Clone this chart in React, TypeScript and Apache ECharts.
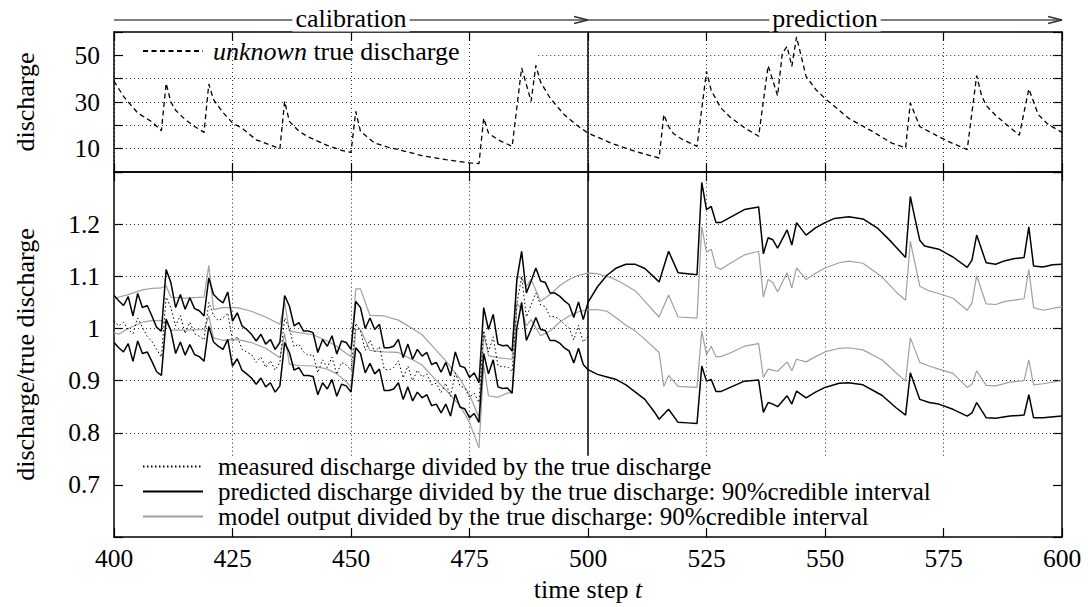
import React, { useEffect, useRef } from 'react';
import * as echarts from 'echarts';

const FONT = 'Liberation Serif';

// ---------- axis ticks / labels ----------
const xTickValues = [400, 425, 450, 475, 500, 525, 550, 575, 600];
const topYLabels = [10, 30, 50];
const topGridValues = [10, 20, 30, 40];
const bottomGridValues = [0.8, 0.9, 1.0, 1.1, 1.2];
const verticalGridValues = [425, 450, 475, 525, 550, 575];
const calibrationEnd = 500;

// ---------- top panel: unknown true discharge [t, value] ----------
const trueDischarge: [number, number][] = [
  [400, 39], [402, 32.4], [405, 25.3], [408, 21.5], [410, 17.7], [411, 38], [412, 30], [413, 26.5],
  [415, 22.5], [417, 19.5], [419, 17], [420, 37.7], [421, 31], [423, 25.5], [425, 21], [427, 18.8],
  [430, 13.8], [433, 11.5], [435, 10], [436, 30.3], [437, 21.7], [439, 17.5], [441, 15], [445, 11.4],
  [448, 9.3], [450, 8.4], [451, 26], [452, 17.4], [455, 12.4], [458, 10.5], [460, 9.6], [465, 7],
  [470, 5.3], [475, 3.9], [477, 3.6], [478, 23.1], [479, 16.7], [481, 13.8], [484, 11], [486, 44.6],
  [488, 30.3], [489, 45.7], [490, 38.5], [492, 31.7], [495, 24.5], [498, 19.5], [500, 16.7],
  [505, 12.3], [510, 8.8], [515, 6], [516, 24.6], [517, 19.5], [518, 16.5], [520, 13.8], [523, 11],
  [525, 43.1], [526, 35], [528, 27.5], [530, 23.5], [533, 19], [536, 15.3], [538, 45.6], [540, 32.7],
  [541, 51], [542, 53.8], [543, 45.3], [544, 57.9], [546, 41], [548, 35.5], [550, 31.5], [555, 23],
  [560, 17.4], [564, 12.5], [567, 10.3], [568, 29.6], [570, 19.5], [573, 16.2], [576, 13.1],
  [580, 9.6], [582, 41.3], [583, 33], [584, 28.5], [586, 24.3], [588, 20.8], [591, 15.8], [593, 35.6],
  [595, 24.6], [597, 20.5], [600, 17],
];

// ---------- bottom panel, calibration period t = 400..500 (one value per step) ----------
const predUpperCal = [
  1.063, 1.053, 1.044, 1.061, 1.024, 1.067, 1.040, 1.044, 1.024, 1.002,
  0.995, 1.113, 1.088, 1.040, 1.065, 1.037, 1.059, 1.038, 1.034, 1.024,
  1.097, 1.065, 1.056, 1.049, 1.070, 1.014, 1.030, 1.005, 0.998, 0.989,
  0.976, 0.989, 0.970, 0.979, 0.960, 0.973, 1.063, 1.043, 1.005, 1.011,
  0.995, 0.995, 0.992, 0.954, 0.979, 0.966, 0.986, 0.951, 0.976, 0.973,
  0.960, 1.052, 1.040, 1.000, 1.020, 0.998, 1.008, 0.963, 0.963, 0.966,
  0.979, 0.944, 0.970, 0.941, 0.960, 0.947, 0.954, 0.931, 0.935, 0.916,
  0.935, 0.909, 0.955, 0.928, 0.925, 0.906, 0.915, 0.896, 1.040, 0.998,
  1.027, 0.970, 0.967, 0.968, 0.957, 1.094, 1.148, 1.068, 1.091, 1.116,
  1.091, 1.088, 1.068, 1.068, 1.062, 1.053, 1.046, 1.021, 1.051, 1.017,
  1.050,
];
const predLowerCal = [
  0.973, 0.963, 0.955, 0.971, 0.937, 0.976, 0.952, 0.955, 0.937, 0.917,
  0.910, 1.018, 0.996, 0.952, 0.974, 0.949, 0.969, 0.950, 0.946, 0.937,
  1.004, 0.974, 0.966, 0.960, 0.979, 0.928, 0.942, 0.920, 0.913, 0.905,
  0.893, 0.905, 0.888, 0.896, 0.878, 0.890, 0.973, 0.954, 0.920, 0.925,
  0.910, 0.910, 0.908, 0.873, 0.896, 0.884, 0.902, 0.870, 0.893, 0.890,
  0.878, 0.963, 0.952, 0.915, 0.933, 0.913, 0.922, 0.881, 0.881, 0.884,
  0.896, 0.864, 0.888, 0.861, 0.878, 0.867, 0.873, 0.852, 0.855, 0.838,
  0.855, 0.832, 0.874, 0.849, 0.846, 0.829, 0.837, 0.820, 0.952, 0.913,
  0.940, 0.888, 0.885, 0.886, 0.876, 1.001, 1.050, 0.977, 0.998, 1.021,
  0.998, 0.996, 0.977, 0.977, 0.972, 0.963, 0.957, 0.934, 0.962, 0.931,
  0.921,
];
const measuredCal = [
  1.015, 1.005, 1.012, 0.998, 0.990, 1.020, 1.002, 0.985, 0.975, 0.960,
  0.945, 1.060, 1.040, 1.005, 1.025, 0.990, 1.012, 0.990, 0.985, 0.978,
  1.050, 1.025, 1.015, 1.020, 1.030, 0.975, 0.985, 0.960, 0.955, 0.950,
  0.935, 0.945, 0.925, 0.938, 0.920, 0.935, 1.020, 1.000, 0.965, 0.970,
  0.955, 0.948, 0.950, 0.915, 0.940, 0.925, 0.945, 0.912, 0.935, 0.930,
  0.920, 1.010, 0.996, 0.958, 0.978, 0.955, 0.965, 0.922, 0.920, 0.925,
  0.938, 0.905, 0.928, 0.900, 0.920, 0.907, 0.913, 0.892, 0.895, 0.877,
  0.895, 0.870, 0.915, 0.890, 0.886, 0.868, 0.876, 0.858, 0.996, 0.955,
  0.984, 0.929, 0.926, 0.927, 0.917, 1.048, 1.099, 1.022, 1.045, 1.068,
  1.045, 1.042, 1.022, 1.023, 1.017, 1.008, 1.001, 0.978, 1.006, 0.974,
  0.985,
];

// ---------- bottom panel, prediction period [t, value] ----------
const predUpperPred: [number, number][] = [
  [502, 1.08], [504, 1.102], [506, 1.116], [508, 1.123], [510, 1.123], [512, 1.115], [514, 1.098],
  [515, 1.089], [517, 1.148], [519, 1.107], [523, 1.103], [524, 1.28], [525, 1.228], [526, 1.234],
  [527, 1.203], [528, 1.203], [530, 1.213], [533, 1.228], [536, 1.233], [537, 1.143], [538, 1.174],
  [539, 1.17], [540, 1.154], [542, 1.189], [543, 1.16], [544, 1.203], [546, 1.179], [548, 1.193],
  [550, 1.203], [552, 1.211], [555, 1.214], [558, 1.21], [561, 1.193], [564, 1.166], [567, 1.136],
  [568, 1.253], [569, 1.21], [570, 1.169], [571, 1.158], [574, 1.152], [577, 1.137], [580, 1.117],
  [581, 1.131], [582, 1.179], [584, 1.126], [586, 1.123], [588, 1.13], [590, 1.134], [592, 1.136],
  [593, 1.195], [594, 1.12], [596, 1.118], [598, 1.122], [600, 1.123],
];
const predLowerPred: [number, number][] = [
  [502, 0.912], [504, 0.907], [506, 0.902], [508, 0.892], [510, 0.878], [512, 0.864], [514, 0.84],
  [515, 0.826], [517, 0.845], [519, 0.82], [521, 0.819], [523, 0.818], [524, 0.928], [525, 0.899],
  [526, 0.902], [527, 0.879], [528, 0.879], [530, 0.887], [533, 0.899], [536, 0.901], [537, 0.839],
  [538, 0.858], [539, 0.855], [540, 0.85], [542, 0.871], [543, 0.855], [544, 0.88], [546, 0.867],
  [548, 0.878], [550, 0.887], [553, 0.895], [555, 0.896], [558, 0.892], [562, 0.872], [565, 0.848],
  [567, 0.834], [568, 0.915], [570, 0.864], [572, 0.858], [574, 0.855], [577, 0.845], [580, 0.832],
  [581, 0.838], [582, 0.858], [584, 0.829], [586, 0.828], [589, 0.832], [592, 0.834], [593, 0.873],
  [594, 0.829], [596, 0.829], [600, 0.832],
];

// ---------- model output interval (smooth, whole period) [t, value] ----------
const modelUpper: [number, number][] = [
  [400, 1.058], [403, 1.065], [406, 1.074], [408, 1.077], [410, 1.078], [411, 1.082], [412, 1.06],
  [415, 1.058], [419, 1.06], [420, 1.121], [421, 1.036], [423, 1.04], [426, 1.04], [429, 1.033],
  [432, 1.022], [435, 1.008], [436, 1.05], [437, 0.995], [439, 0.992], [442, 0.988], [445, 0.976],
  [447, 0.966], [449, 0.952], [450, 0.946], [451, 1.076], [452, 1.076], [454, 1.025], [457, 1.024],
  [460, 1.016], [462, 1.005], [465, 0.988], [467, 0.968], [470, 0.938], [473, 0.903], [475, 0.873],
  [477, 0.829], [478, 0.99], [479, 0.948], [481, 0.944], [484, 0.941], [485, 1.1], [486, 1.097],
  [487, 1.081], [488, 1.094], [490, 1.052], [492, 1.065], [494, 1.082], [496, 1.094], [498, 1.102],
  [500, 1.106], [502, 1.105], [505, 1.097], [507, 1.088], [510, 1.072], [512, 1.052], [515, 1.022],
  [517, 1.064], [519, 1.022], [523, 1.02], [524, 1.195], [525, 1.146], [526, 1.152], [527, 1.118],
  [528, 1.113], [530, 1.125], [533, 1.141], [536, 1.148], [537, 1.06], [538, 1.094], [539, 1.088],
  [540, 1.07], [542, 1.107], [543, 1.078], [544, 1.116], [546, 1.094], [548, 1.106], [550, 1.116],
  [553, 1.126], [555, 1.129], [558, 1.125], [562, 1.099], [565, 1.07], [567, 1.054], [568, 1.167],
  [570, 1.081], [572, 1.072], [574, 1.067], [577, 1.058], [580, 1.035], [581, 1.049], [582, 1.101],
  [584, 1.047], [586, 1.046], [588, 1.052], [592, 1.057], [593, 1.113], [594, 1.04], [596, 1.035],
  [600, 1.042],
];
const modelLower: [number, number][] = [
  [400, 0.992], [401, 0.989], [403, 1.0], [406, 1.012], [408, 1.015], [410, 1.015], [411, 1.012],
  [412, 0.997], [415, 0.997], [419, 0.998], [420, 1.024], [421, 0.982], [423, 0.977], [426, 0.979],
  [429, 0.973], [432, 0.962], [435, 0.944], [436, 0.99], [437, 0.931], [439, 0.929], [442, 0.928],
  [445, 0.922], [447, 0.913], [449, 0.898], [450, 0.887], [451, 0.998], [452, 0.998], [454, 0.958],
  [457, 0.955], [460, 0.954], [463, 0.94], [465, 0.93], [467, 0.91], [470, 0.882], [473, 0.852],
  [475, 0.82], [477, 0.771], [478, 0.93], [479, 0.871], [481, 0.868], [483, 0.876], [484, 0.877],
  [485, 1.049], [486, 1.036], [487, 1.005], [488, 1.017], [490, 0.986], [492, 0.995], [494, 1.012],
  [496, 1.024], [498, 1.032], [500, 1.036], [502, 1.036], [504, 1.033], [506, 1.02], [508, 1.006],
  [510, 0.995], [512, 0.979], [515, 0.954], [516, 0.889], [517, 0.91], [519, 0.889], [523, 0.887],
  [524, 0.995], [525, 0.95], [526, 0.966], [527, 0.946], [528, 0.946], [530, 0.953], [533, 0.966],
  [536, 0.971], [537, 0.906], [538, 0.922], [539, 0.92], [540, 0.918], [542, 0.936], [543, 0.919],
  [544, 0.941], [546, 0.936], [548, 0.946], [550, 0.955], [553, 0.962], [555, 0.963], [558, 0.959],
  [562, 0.94], [565, 0.915], [567, 0.899], [568, 0.982], [570, 0.935], [572, 0.928], [574, 0.922],
  [577, 0.914], [580, 0.887], [581, 0.893], [582, 0.919], [584, 0.891], [586, 0.89], [589, 0.897],
  [592, 0.9], [593, 0.94], [594, 0.892], [596, 0.894], [600, 0.9],
];

const NAME_TRUE = 'unknown true discharge';
const NAME_MEAS = 'measured discharge divided by the true discharge';
const NAME_PRED = 'predicted discharge divided by the true discharge: 90%credible interval';
const NAME_MODEL = 'model output divided by the true discharge: 90%credible interval';

const calPairs = (vals: number[]) => vals.map((v, i) => [400 + i, v] as [number, number]);

export default function App() {
  const ref = useRef<HTMLDivElement>(null);
  useEffect(() => {
    if (!ref.current) return;
    const chart = echarts.init(ref.current, null, { renderer: 'svg' });

    const gridLineStyle = { type: [1, 3] as any, color: '#333', width: 1 };
    const tickStyle = { show: true, inside: true, length: 9, lineStyle: { color: '#000', width: 1.2 } };
    const axisLineStyle = { show: true, onZero: false, lineStyle: { color: '#000', width: 1.5 } };
    const labelFont = { fontFamily: FONT, fontSize: 25.5, color: '#000' };
    const legendCut = 0.756; // bottom-panel grid lines stop at the legend box

    const option: any = {
      animation: false,
      backgroundColor: '#fff',
      textStyle: { fontFamily: FONT },
      grid: [
        { left: 114, top: 32, width: 948, height: 140, containLabel: false },
        { left: 114, top: 172, width: 948, height: 366, containLabel: false },
      ],
      xAxis: [
        {
          type: 'value', gridIndex: 0, min: 400, max: 600, interval: 25, position: 'bottom',
          axisLine: axisLineStyle, axisTick: tickStyle, axisLabel: { show: false },
          splitLine: { show: true, lineStyle: gridLineStyle },
        },
        {
          type: 'value', gridIndex: 0, min: 400, max: 600, interval: 25, position: 'top',
          axisLine: axisLineStyle, axisTick: tickStyle, axisLabel: { show: false }, splitLine: { show: false },
        },
        {
          type: 'value', gridIndex: 1, min: 400, max: 600, interval: 25, position: 'bottom',
          axisLine: axisLineStyle, axisTick: tickStyle,
          axisLabel: { ...labelFont, margin: 8, formatter: (v: number) => (xTickValues.includes(v) ? String(v) : '') },
          splitLine: { show: false },
          name: 'time step {i|t}', nameLocation: 'middle', nameGap: 29,
          nameTextStyle: {
            fontFamily: FONT, fontSize: 26, color: '#000',
            rich: { i: { fontFamily: FONT, fontSize: 26, fontStyle: 'italic', color: '#000' } },
          },
        },
        {
          type: 'value', gridIndex: 1, min: 400, max: 600, interval: 25, position: 'top',
          axisLine: axisLineStyle, axisTick: tickStyle, axisLabel: { show: false }, splitLine: { show: false },
        },
      ],
      yAxis: [
        {
          type: 'value', gridIndex: 0, min: 0, max: 60, interval: 10, position: 'left',
          axisLine: axisLineStyle, axisTick: tickStyle,
          axisLabel: { ...labelFont, margin: 14, formatter: (v: number) => (topYLabels.includes(v) ? String(v) : '') },
          splitLine: { show: false },
          name: 'discharge', nameLocation: 'middle', nameGap: 76,
          nameTextStyle: { fontFamily: FONT, fontSize: 26, color: '#000' },
        },
        {
          type: 'value', gridIndex: 0, min: 0, max: 60, interval: 10, position: 'right',
          axisLine: axisLineStyle, axisTick: tickStyle, axisLabel: { show: false }, splitLine: { show: false },
        },
        {
          type: 'value', gridIndex: 1, min: 0.6, max: 1.3, interval: 0.1, position: 'left',
          axisLine: axisLineStyle, axisTick: tickStyle,
          axisLabel: {
            ...labelFont, margin: 14,
            formatter: (v: number) => {
              const r = Math.round(v * 10) / 10;
              return r <= 0.6 || r >= 1.3 ? '' : String(r);
            },
          },
          splitLine: { show: false },
          name: 'discharge/true discharge', nameLocation: 'middle', nameGap: 76,
          nameTextStyle: { fontFamily: FONT, fontSize: 26, color: '#000' },
        },
        {
          type: 'value', gridIndex: 1, min: 0.6, max: 1.3, interval: 0.1, position: 'right',
          axisLine: axisLineStyle, axisTick: tickStyle, axisLabel: { show: false }, splitLine: { show: false },
        },
      ],
      legend: [
        {
          data: [NAME_TRUE], left: 142, top: 38, padding: 0, itemWidth: 60, itemHeight: 2,
          selectedMode: false,
          itemStyle: { opacity: 0 },
          formatter: () => '{i|unknown} true discharge',
          textStyle: {
            fontFamily: FONT, fontSize: 26, color: '#000', lineHeight: 24, padding: [0, 0, 0, 5],
            rich: { i: { fontFamily: FONT, fontSize: 26, fontStyle: 'italic', color: '#000', lineHeight: 24 } },
          },
        },
        {
          data: [NAME_MEAS, NAME_PRED, NAME_MODEL], orient: 'vertical', left: 142, top: 454, padding: 0,
          itemWidth: 60, itemHeight: 2, itemGap: 0, selectedMode: false,
          itemStyle: { opacity: 0 },
          textStyle: { fontFamily: FONT, fontSize: 25, color: '#000', lineHeight: 22.5, padding: [0, 0, 0, 10] },
        },
      ],
      series: [
        {
          type: 'line', xAxisIndex: 0, yAxisIndex: 0, data: [], silent: true, z: 1,
          markLine: {
            silent: true, symbol: ['none', 'none'], label: { show: false }, z: 1,
            lineStyle: gridLineStyle,
            data: [
              ...topGridValues.map((v) => ({ yAxis: v })),
              [{ coord: [489.5, 50] }, { coord: [600, 50] }],
              { xAxis: calibrationEnd, lineStyle: { type: 'solid', color: '#000', width: 1.5 } },
            ],
          },
        },
        {
          type: 'line', xAxisIndex: 2, yAxisIndex: 2, data: [], silent: true, z: 1,
          markLine: {
            silent: true, symbol: ['none', 'none'], label: { show: false }, z: 1,
            lineStyle: gridLineStyle,
            data: [
              ...bottomGridValues.map((v) => ({ yAxis: v })),
              ...verticalGridValues.map((x) => [{ coord: [x, legendCut] }, { coord: [x, 1.3] }]),
              [
                { coord: [calibrationEnd, legendCut], lineStyle: { type: 'solid', color: '#000', width: 1.5 } },
                { coord: [calibrationEnd, 1.3] },
              ],
            ],
          },
        },
        {
          name: NAME_TRUE, type: 'line', xAxisIndex: 0, yAxisIndex: 0, data: trueDischarge,
          symbol: 'none', z: 4, lineStyle: { color: '#000', width: 1.3, type: [5, 3.5] },
          itemStyle: { color: '#000' },
        },
        {
          name: NAME_MODEL, type: 'line', xAxisIndex: 2, yAxisIndex: 2, data: modelUpper,
          symbol: 'none', z: 3, lineStyle: { color: '#a0a0a0', width: 1.2 }, itemStyle: { color: '#a0a0a0' },
        },
        {
          name: NAME_MODEL, type: 'line', xAxisIndex: 2, yAxisIndex: 2, data: modelLower,
          symbol: 'none', z: 3, lineStyle: { color: '#a0a0a0', width: 1.2 }, itemStyle: { color: '#a0a0a0' },
        },
        {
          name: NAME_PRED, type: 'line', xAxisIndex: 2, yAxisIndex: 2,
          data: [...calPairs(predUpperCal), ...predUpperPred],
          symbol: 'none', z: 4, lineStyle: { color: '#000', width: 1.5 }, itemStyle: { color: '#000' },
        },
        {
          name: NAME_PRED, type: 'line', xAxisIndex: 2, yAxisIndex: 2,
          data: [...calPairs(predLowerCal), ...predLowerPred],
          symbol: 'none', z: 4, lineStyle: { color: '#000', width: 1.5 }, itemStyle: { color: '#000' },
        },
        {
          name: NAME_MEAS, type: 'line', xAxisIndex: 2, yAxisIndex: 2, data: calPairs(measuredCal),
          symbol: 'none', z: 5, lineStyle: { color: '#000', width: 1, type: [1.5, 2.5] },
          itemStyle: { color: '#000' },
        },
      ],
    };
    chart.setOption(option);

    // arrows with "calibration" / "prediction" above the plot
    const px = (t: number) => chart.convertToPixel({ xAxisIndex: 0 }, t) as number;
    const xa = px(400), xb = px(calibrationEnd), xc = px(600);
    const yArrow = 20;
    const arrow = (x0: number, x1: number, label: string) => [
      { type: 'line', shape: { x1: x0, y1: yArrow, x2: x1, y2: yArrow }, style: { stroke: '#555', lineWidth: 1.6 }, z: 10 },
      {
        type: 'polyline',
        shape: { points: [[x1 - 14, yArrow - 3.5], [x1, yArrow], [x1 - 14, yArrow + 3.5]] },
        style: { stroke: '#333', lineWidth: 1.4, fill: 'none' }, z: 10,
      },
      {
        type: 'text', x: (x0 + x1) / 2, y: yArrow - 1.5, z: 11,
        style: {
          text: label, fontFamily: FONT, fontSize: 26, fill: '#000', align: 'center', verticalAlign: 'middle',
          backgroundColor: '#fff', padding: [0, 3],
        },
      },
    ];
    chart.setOption({ graphic: [...arrow(xa, xb, 'calibration'), ...arrow(xb, xc, 'prediction')] });

    return () => chart.dispose();
  }, []);
  return <div ref={ref} style={{ position: 'fixed', left: 0, top: 0, width: 1088, height: 607 }} />;
}
